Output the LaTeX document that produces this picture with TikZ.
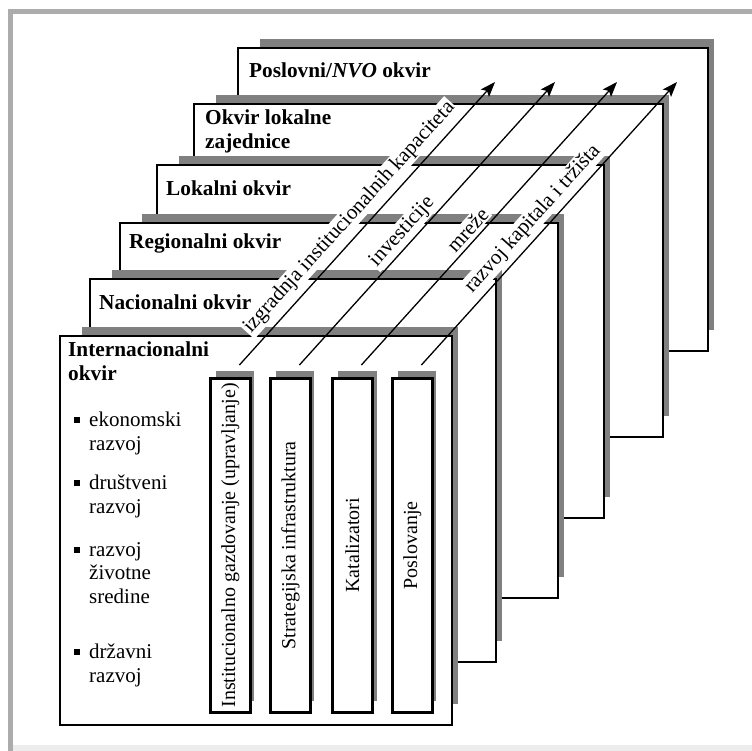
\documentclass[tikz,border=0pt]{standalone}
\usepackage{fontspec}
\setmainfont{Liberation Serif}
\usetikzlibrary{arrows.meta}
\definecolor{shadowGray}{RGB}{128,128,128}
\definecolor{borderGray}{RGB}{172,172,172}
\definecolor{bottomGray}{RGB}{236,236,236}
\newcommand{\labelfont}{\fontsize{21.3}{24}\selectfont\bfseries}
\newcommand{\itemfont}{\fontsize{21}{23.5}\selectfont}
\newcommand{\colfont}{\fontsize{20}{22}\selectfont}
\newcommand{\diagfont}{\fontsize{21}{24}\selectfont}

\begin{document}
\begin{tikzpicture}[x=1pt, y=-1pt,
    panel/.style={draw=black, line width=2.2pt, fill=white, anchor=north west, inner sep=0pt},
    column/.style={draw=black, line width=2.8pt, fill=white, anchor=north west, inner sep=0pt, minimum width=40pt, minimum height=334pt},
    panellabel/.style={font=\labelfont, anchor=west, inner sep=0pt},
    itemtext/.style={font=\itemfont, anchor=north west, align=left, inner sep=0pt},
    bulletsq/.style={fill=black, minimum size=6pt, inner sep=0pt},
    coltext/.style={font=\colfont, rotate=90, inner sep=0pt},
    diaglabel/.style={font=\diagfont, sloped, fill=white, inner sep=1.5pt},
    arrowline/.style={line width=1.3pt, -{Stealth[length=15pt, width=11pt, inset=3pt]}}]
    \useasboundingbox (0,0) rectangle (752,751);

    % outer frame
    \fill[bottomGray] (13,745) rectangle (752,751);
    \draw[borderGray, line width=5pt] (10.8,751) -- (10.8,12) -- (752,12);

    % frames, back to front
    \fill[shadowGray] (260,39) rectangle (714,330);
    \node[panel, minimum width=470pt, minimum height=303pt] (poslovni) at (237,47) {};
    \fill[shadowGray] (216,95) rectangle (669,416);
    \node[panel, minimum width=469pt, minimum height=333pt] (zajednica) at (193,103) {};
    \fill[shadowGray] (179,156) rectangle (610,497);
    \node[panel, minimum width=447pt, minimum height=353pt] (lokalni) at (156,164) {};
    \fill[shadowGray] (142,214) rectangle (564,577);
    \node[panel, minimum width=438pt, minimum height=375pt] (regionalni) at (119,222) {};
    \fill[shadowGray] (112,270) rectangle (502,641);
    \node[panel, minimum width=406pt, minimum height=383pt] (nacionalni) at (89,278) {};
    \fill[shadowGray] (82,327) rectangle (458,704);
    \node[panel, minimum width=392pt, minimum height=389pt] (internacionalni) at (59,335) {};

    % frame titles
    \node[panellabel] (tPoslovni) at (249,70) {Poslovni/\textit{NVO} okvir};
    \node[panellabel, anchor=north west, align=left] (tZajednica) at (205,110) {Okvir lokalne\\zajednice};
    \node[panellabel] (tLokalni) at (166,188) {Lokalni okvir};
    \node[panellabel] (tRegionalni) at (129,243) {Regionalni okvir};
    \node[panellabel] (tNacionalni) at (99,302) {Nacionalni okvir};
    \node[panellabel, anchor=north west, align=left] (tInter) at (68,342) {Internacionalni\\okvir};

    % bullet list
    \node[bulletsq] (b1) at (77,420) {};
    \node[itemtext] (i1) at (89,412) {ekonomski\\razvoj};
    \node[bulletsq] (b2) at (77,483) {};
    \node[itemtext] (i2) at (89,475) {društveni\\razvoj};
    \node[bulletsq] (b3) at (77,550) {};
    \node[itemtext] (i3) at (89,542) {razvoj\\životne\\sredine};
    \node[bulletsq] (b4) at (77,652) {};
    \node[itemtext] (i4) at (89,644) {državni\\razvoj};

    % columns
    \fill[shadowGray] (216,371) rectangle (254,701);
    \node[column] (col1) at (209,377) {};
    \fill[shadowGray] (276,371) rectangle (314,701);
    \node[column] (col2) at (269,377) {};
    \fill[shadowGray] (338,371) rectangle (377,701);
    \node[column] (col3) at (331,377) {};
    \fill[shadowGray] (398,371) rectangle (436,701);
    \node[column] (col4) at (391,377) {};

    \node[coltext] at (col1.center) {Institucionalno gazdovanje (upravljanje)};
    \node[coltext] at (col2.center) {Strategijska infrastruktura};
    \node[coltext] at (col3.center) {Katalizatori};
    \node[coltext] at (col4.center) {Poslovanje};

    % diagonal arrows
    \coordinate (s1) at ([shift={(9pt,12pt)}]col1.north);
    \coordinate (s2) at ([shift={(9pt,12pt)}]col2.north);
    \coordinate (s3) at ([shift={(9pt,12pt)}]col3.north);
    \coordinate (s4) at ([shift={(9pt,12pt)}]col4.north);
    \coordinate (tip1) at (495,82);
    \coordinate (tip2) at (555,82);
    \coordinate (tip3) at (617,82);
    \coordinate (tip4) at (677,82);

    \path (s1) -- (tip1) node[diaglabel, above=6pt, pos=0.48] {izgradnja institucionalnih kapaciteta};
    \path (s2) -- (tip2) node[diaglabel, above=2pt, pos=0.44] {investicije};
    \path (s3) -- (tip3) node[diaglabel, above=3pt, pos=0.45] {mreže};
    \path (s4) -- (tip4) node[diaglabel, above=4pt, pos=0.48] {razvoj kapitala i tržišta};

    \draw[arrowline] (s1) -- (tip1);
    \draw[arrowline] (s2) -- (tip2);
    \draw[arrowline] (s3) -- (tip3);
    \draw[arrowline] (s4) -- (tip4);
\end{tikzpicture}
\end{document}
